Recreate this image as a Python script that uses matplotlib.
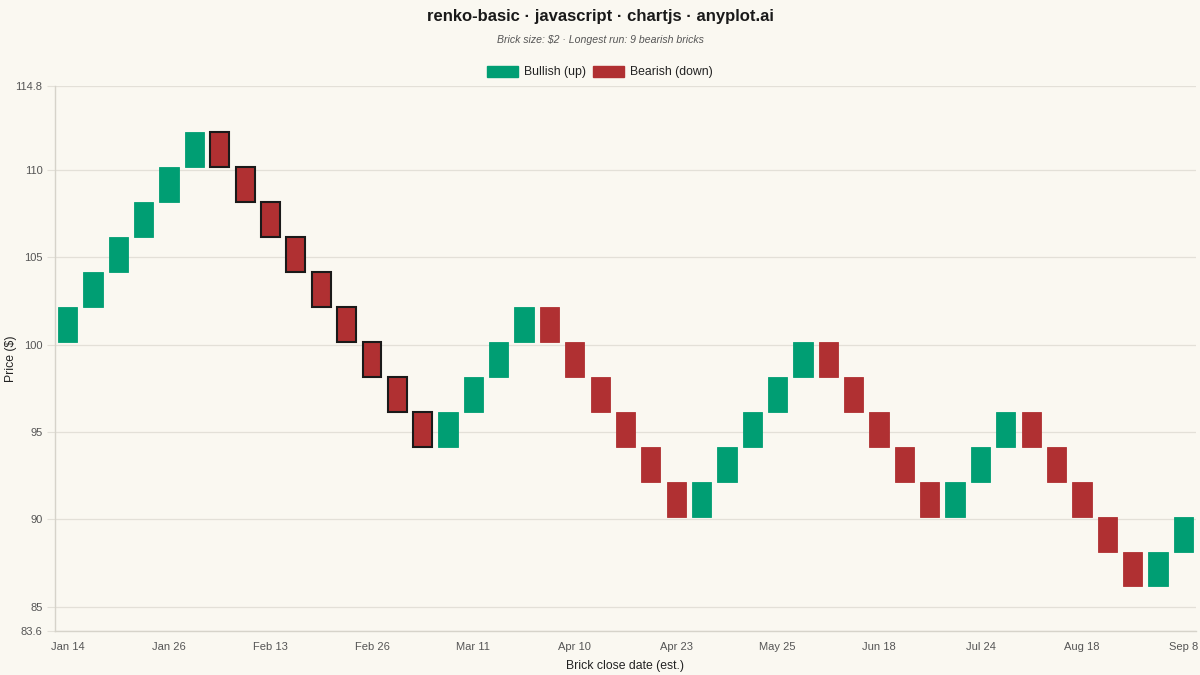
import matplotlib
matplotlib.use("Agg")
import matplotlib.pyplot as plt
from matplotlib.patches import Patch

# renko bricks: lower edge of each brick and its direction
brick_low = [100.15, 102.15, 104.15, 106.15, 108.15, 110.15,
             110.15, 108.15, 106.15, 104.15, 102.15, 100.15, 98.15, 96.15, 94.15,
             94.15, 96.15, 98.15, 100.15,
             100.15, 98.15, 96.15, 94.15, 92.15, 90.15,
             90.15, 92.15, 94.15, 96.15, 98.15,
             98.15, 96.15, 94.15, 92.15, 90.15,
             90.15, 92.15, 94.15,
             94.15, 92.15, 90.15, 88.15, 86.15,
             86.15, 88.15]
brick_dir = ["up"] * 6 + ["down"] * 9 + ["up"] * 4 + ["down"] * 6 + ["up"] * 5 \
    + ["down"] * 5 + ["up"] * 3 + ["down"] * 5 + ["up"] * 2
brick_size = 2
longest_run = list(range(6, 15))  # the 9 bearish bricks in a row

tick_labels = ["Jan 14", "Jan 26", "Feb 13", "Feb 26", "Mar 11", "Apr 10",
               "Apr 23", "May 25", "Jun 18", "Jul 24", "Aug 18", "Sep 8"]
y_ticks = [83.6, 85, 90, 95, 100, 105, 110, 114.8]

bg = "#FAF8F1"
up_col = "#009E73"
down_col = "#B03032"
grid_col = "#E3E0D8"
txt_col = "#555555"

plt.rcParams["font.family"] = ["Liberation Sans", "DejaVu Sans"]

fig = plt.figure(figsize=(12, 6.75), dpi=100, facecolor=bg)
ax = fig.add_axes([55 / 1200, 44 / 675, 1141 / 1200, 545 / 675], facecolor=bg)

xs = list(range(len(brick_low)))
for i in xs:
    col = up_col if brick_dir[i] == "up" else down_col
    if i in longest_run:
        ax.bar(i, brick_size, bottom=brick_low[i], width=0.74, color=col,
               edgecolor="#1a1a1a", linewidth=1.5, zorder=3)
    else:
        ax.bar(i, brick_size, bottom=brick_low[i], width=0.76, color=col,
               edgecolor=col, linewidth=0.6, zorder=3)

ax.set_xlim(-0.5, len(brick_low) - 0.5)
ax.set_ylim(y_ticks[0], y_ticks[-1])
ax.set_yticks(y_ticks)
ax.set_yticklabels(["83.6", "85", "90", "95", "100", "105", "110", "114.8"])
ax.set_xticks(xs[::4])
ax.set_xticklabels(tick_labels)
ax.tick_params(axis="y", length=6, color=grid_col, labelsize=8, labelcolor=txt_col, pad=3)
ax.tick_params(axis="x", length=0, labelsize=8, labelcolor=txt_col, pad=8)
ax.grid(axis="y", color=grid_col, linewidth=0.9, zorder=0)
for s in ["top", "right"]:
    ax.spines[s].set_visible(False)
for s in ["left", "bottom"]:
    ax.spines[s].set_color("#D6D3CA")
    ax.spines[s].set_linewidth(1)

ax.set_xlabel("Brick close date (est.)", fontsize=8.8, color="#222222", labelpad=6)
ax.set_ylabel("Price ($)", fontsize=8.8, color="#222222")
ax.yaxis.set_label_coords(-0.0335, 0.5)

fig.text(0.5, 1 - 17 / 675, "renko-basic · javascript · chartjs · anyplot.ai",
         ha="center", va="center", fontsize=12, fontweight="bold", color="#1a1a1a")
fig.text(0.5, 1 - 40 / 675, "Brick size: $2 · Longest run: 9 bearish bricks",
         ha="center", va="center", fontsize=7.6, style="italic", color="#555555")

handles = [Patch(facecolor=up_col, edgecolor=up_col, label="Bullish (up)"),
           Patch(facecolor=down_col, edgecolor=down_col, label="Bearish (down)")]
fig.legend(handles=handles, loc="center", bbox_to_anchor=(0.5, 1 - 72 / 675), ncol=2,
           frameon=False, fontsize=8.8, handlelength=2.5, handleheight=1.0,
           handletextpad=0.5, columnspacing=0.6, labelcolor="#222222")

fig.savefig("out.png", dpi=100, facecolor=bg)
